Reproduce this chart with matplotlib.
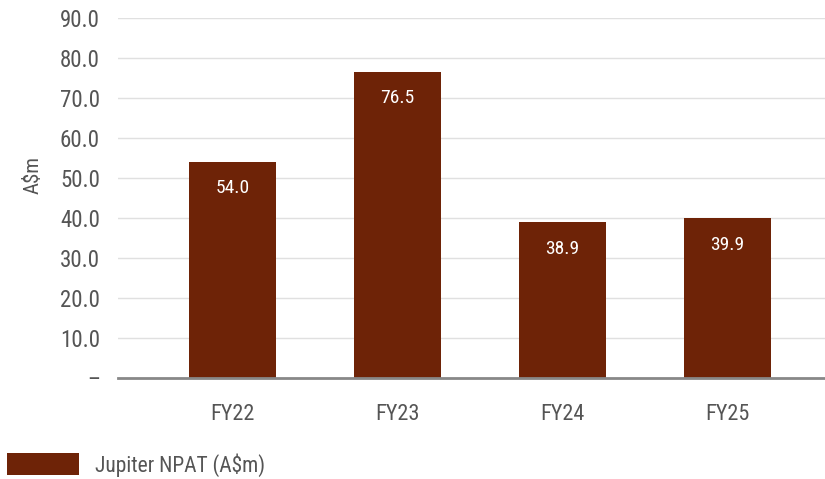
import matplotlib
matplotlib.use("Agg")
import matplotlib.pyplot as plt
from matplotlib.patches import Rectangle

plt.rcParams['font.family'] = ['Roboto Condensed', 'Open Sans Condensed', 'Liberation Sans Narrow', 'DejaVu Sans']
plt.rcParams['font.stretch'] = 'condensed'

categories = ["FY22", "FY23", "FY24", "FY25"]
npat = [54.0, 76.5, 38.9, 39.9]
yticks = [0, 10, 20, 30, 40, 50, 60, 70, 80, 90]
ytick_labels = ["–", "10.0", "20.0", "30.0", "40.0", "50.0", "60.0", "70.0", "80.0", "90.0"]
series_name = "Jupiter NPAT (A$m)"
y_label = "A$m"

bar_color = "#6e2307"
text_color = "#555555"

fig = plt.figure(figsize=(8.25, 4.79), dpi=100)
ax = fig.add_axes([118/825, 1 - 378/479, (825-118)/825, (378-18)/479])

x = list(range(len(categories)))
bars = ax.bar(x, npat, width=0.527, color=bar_color, zorder=3)
for xi, v in zip(x, npat):
    ax.annotate(f"{v:.1f}", (xi, v), xytext=(0, -19), textcoords="offset points",
                ha="center", va="center", color="white", fontsize=14, zorder=4)

ax.set_xlim(-0.697, 3.594)
ax.set_ylim(0, 90)
ax.set_yticks(yticks)
ax.set_yticklabels(ytick_labels, fontsize=16.5, color=text_color)
ax.set_xticks(x)
ax.set_xticklabels(categories, fontsize=16, color=text_color)
ax.tick_params(axis='both', length=0)
ax.tick_params(axis='y', pad=13)
ax.tick_params(axis='x', pad=19)
ax.grid(axis='y', color="#e0e0e0", linewidth=1, zorder=0)
for s in ["top", "right", "left"]:
    ax.spines[s].set_visible(False)
ax.spines["bottom"].set_color("#888888")
ax.spines["bottom"].set_linewidth(2)
ax.spines["bottom"].set_zorder(5)

fig.text(33/825, 1 - 175/479, y_label, rotation=90, ha="center", va="center", fontsize=15, color=text_color)

fig.patches.append(Rectangle((7/825, 1 - 475/479), 72/825, 22/479, transform=fig.transFigure,
                             facecolor=bar_color, edgecolor="none"))
fig.text(95/825, 1 - 465/479, series_name, ha="left", va="center", fontsize=15.5, color=text_color)

fig.savefig("out.png", dpi=100)
